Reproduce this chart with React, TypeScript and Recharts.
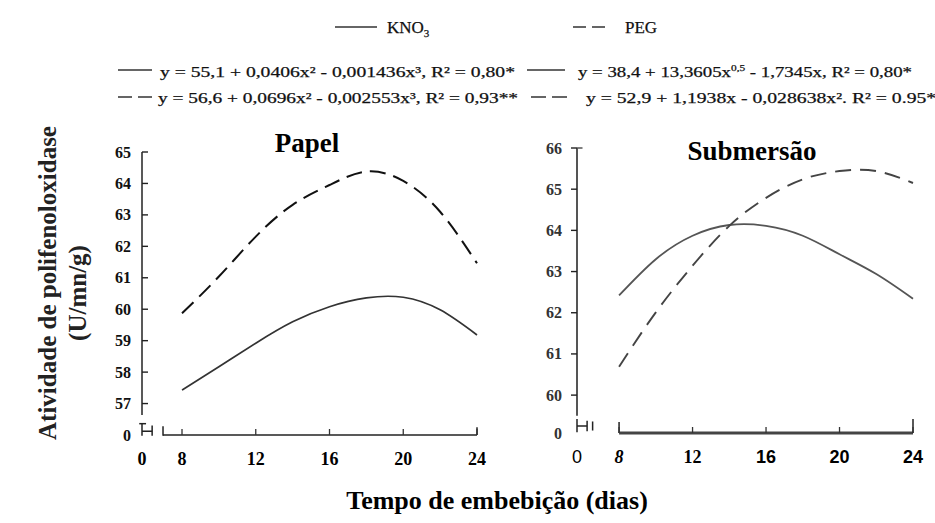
import { LineChart, Line, XAxis, YAxis, ReferenceLine } from 'recharts';

// days of imbibition where the curves were read
const DAYS = [8, 10, 12, 14, 16, 18, 20, 22, 24];

// Papel
const PAPEL_KNO3 = [57.43, 58.17, 58.92, 59.6, 60.08, 60.36, 60.38, 59.98, 59.18];
const PAPEL_PEG = [59.87, 61.04, 62.31, 63.32, 63.95, 64.38, 64.08, 63.1, 61.46];

// Submersão
const SUB_KNO3 = [62.42, 63.3, 63.87, 64.13, 64.11, 63.87, 63.42, 62.94, 62.34];
const SUB_PEG = [60.69, 62.01, 63.14, 64.11, 64.79, 65.24, 65.44, 65.44, 65.15];

const X_TICKS = [8, 12, 16, 20, 24];
const PAPEL_Y_TICKS = [57, 58, 59, 60, 61, 62, 63, 64, 65];
const SUB_Y_TICKS = [60, 61, 62, 63, 64, 65, 66];

// broken axes: the origin of each panel is drawn as "0"
const PAPEL_X0 = 5.83;
const PAPEL_Y0 = 56;
const SUB_X0 = 5.71;
const SUB_Y0 = 59.08;

const SERIF = '"Liberation Serif", "DejaVu Serif", serif';
const SANS = '"Liberation Sans", "DejaVu Sans", sans-serif';

const papelData = DAYS.map((d, i) => ({ day: d, kno3: PAPEL_KNO3[i], peg: PAPEL_PEG[i] }));
const subData = DAYS.map((d, i) => ({ day: d, kno3: SUB_KNO3[i], peg: SUB_PEG[i] }));

const SUB_X_FONT: Record<string, { family: string; weight: string; style: string }> = {
  '0': { family: SANS, weight: 'normal', style: 'normal' },
  '8': { family: SERIF, weight: 'bold', style: 'italic' },
  '12': { family: SERIF, weight: 'bold', style: 'normal' },
  '16': { family: SANS, weight: 'bold', style: 'normal' },
  '20': { family: SANS, weight: 'bold', style: 'normal' },
  '24': { family: SANS, weight: 'bold', style: 'normal' },
};

function makeYTick(origin: number, inward: boolean, fill: string) {
  return (props: any) => {
    const { x, y, payload } = props;
    const axisX = x + 12;
    const isOrigin = payload.value === origin;
    return (
      <g>
        {!isOrigin && (
          <line x1={axisX} x2={inward ? axisX + 6 : axisX - 6} y1={y} y2={y} stroke="#222" strokeWidth={1.4} />
        )}
        <text
          x={inward ? x + 1 : x - 3}
          y={y}
          textAnchor="end"
          dominantBaseline="central"
          fontFamily={SERIF}
          fontWeight="bold"
          fontSize={16}
          fill={fill}
        >
          {isOrigin ? '0' : payload.value}
        </text>
      </g>
    );
  };
}

function makeXTick(origin: number, fonts?: typeof SUB_X_FONT) {
  return (props: any) => {
    const { x, y, payload } = props;
    const isOrigin = payload.value === origin;
    const label = isOrigin ? '0' : String(payload.value);
    const f = fonts ? fonts[label] : { family: SERIF, weight: 'bold', style: 'normal' };
    return (
      <g>
        {!isOrigin && <line x1={x} x2={x} y1={y} y2={y - 6} stroke="#333" strokeWidth={1.3} />}
        <text
          x={x}
          y={y + 24}
          textAnchor="middle"
          dominantBaseline="central"
          fontFamily={f.family}
          fontWeight={f.weight}
          fontStyle={f.style}
          fontSize={18}
          fill="#000"
        >
          {label}
        </text>
      </g>
    );
  };
}

function Segment({ a, b, color = '#222', width = 1.5 }: { a: [number, number]; b: [number, number]; color?: string; width?: number }) {
  return (
    <ReferenceLine
      segment={[{ x: a[0], y: a[1] }, { x: b[0], y: b[1] }]}
      stroke={color}
      strokeWidth={width}
      ifOverflow="visible"
    />
  );
}

function PapelChart() {
  return (
    <LineChart width={500} height={523} data={papelData} margin={{ top: 152, right: 23, bottom: 58, left: 102 }}>
      <XAxis
        type="number"
        dataKey="day"
        domain={[PAPEL_X0, 24]}
        ticks={[PAPEL_X0, ...X_TICKS]}
        interval={0}
        height={30}
        axisLine={false}
        tickLine={false}
        tickSize={0}
        tickMargin={0}
        tick={makeXTick(PAPEL_X0)}
      />
      <YAxis
        type="number"
        domain={[PAPEL_Y0, 65]}
        ticks={[PAPEL_Y0, ...PAPEL_Y_TICKS]}
        interval={0}
        width={40}
        axisLine={false}
        tickLine={false}
        tickSize={0}
        tickMargin={12}
        tick={makeYTick(PAPEL_Y0, true, '#111')}
      />
      {/* axis lines with the break near the origin */}
      {Segment({ a: [PAPEL_X0, 56.64], b: [PAPEL_X0, 65] })}
      {Segment({ a: [PAPEL_X0 - 0.15, 56.36], b: [PAPEL_X0 + 0.22, 56.36] })}
      {Segment({ a: [PAPEL_X0, 56.36], b: [PAPEL_X0, 55.98] })}
      {Segment({ a: [PAPEL_X0 + 0.55, 56.3], b: [PAPEL_X0 + 0.55, 55.98] })}
      {Segment({ a: [PAPEL_X0, 56.12], b: [PAPEL_X0 + 0.55, 56.12] })}
      {Segment({ a: [6.97, 56.28], b: [6.97, 55.98] })}
      {Segment({ a: [6.97, PAPEL_Y0], b: [24, PAPEL_Y0] })}
      {Segment({ a: [24, PAPEL_Y0], b: [24, 56.25] })}
      <Line type="natural" dataKey="kno3" stroke="#333" strokeWidth={1.7} dot={false} isAnimationActive={false} />
      <Line
        type="natural"
        dataKey="peg"
        stroke="#111"
        strokeWidth={2}
        strokeDasharray="16 8"
        dot={false}
        isAnimationActive={false}
      />
    </LineChart>
  );
}

function SubChart() {
  return (
    <LineChart width={435} height={523} data={subData} margin={{ top: 148, right: 22, bottom: 60, left: 37 }}>
      <XAxis
        type="number"
        dataKey="day"
        domain={[SUB_X0, 24]}
        ticks={[SUB_X0, ...X_TICKS]}
        interval={0}
        height={30}
        axisLine={false}
        tickLine={false}
        tickSize={0}
        tickMargin={0}
        tick={makeXTick(SUB_X0, SUB_X_FONT)}
      />
      <YAxis
        type="number"
        domain={[SUB_Y0, 66]}
        ticks={[SUB_Y0, ...SUB_Y_TICKS]}
        interval={0}
        width={40}
        axisLine={false}
        tickLine={false}
        tickSize={0}
        tickMargin={12}
        tick={makeYTick(SUB_Y0, false, '#333')}
      />
      {Segment({ a: [SUB_X0, 59.5], b: [SUB_X0, 66], color: '#555', width: 2 })}
      {Segment({ a: [SUB_X0, 66], b: [SUB_X0 + 0.3, 66], color: '#555', width: 1.5 })}
      {Segment({ a: [SUB_X0, 59.42], b: [SUB_X0, 59.1] })}
      {Segment({ a: [SUB_X0, 59.25], b: [SUB_X0 + 0.55, 59.25] })}
      {Segment({ a: [SUB_X0 + 0.55, 59.38], b: [SUB_X0 + 0.55, 59.12] })}
      {Segment({ a: [SUB_X0 + 0.85, 59.36], b: [SUB_X0 + 0.85, 59.14] })}
      {Segment({ a: [8, 59.35], b: [8, SUB_Y0] })}
      {Segment({ a: [8, SUB_Y0], b: [24, SUB_Y0], color: '#444', width: 3 })}
      {Segment({ a: [24, SUB_Y0], b: [24, 59.42] })}
      <Line type="natural" dataKey="kno3" stroke="#555" strokeWidth={1.8} dot={false} isAnimationActive={false} />
      <Line
        type="natural"
        dataKey="peg"
        stroke="#444"
        strokeWidth={1.9}
        strokeDasharray="16 9"
        dot={false}
        isAnimationActive={false}
      />
    </LineChart>
  );
}

function Overlay() {
  const eq = { fontFamily: SERIF, fontSize: 15, fill: '#111', stroke: '#111', strokeWidth: 0.25 };
  return (
    <svg width={935} height={523} style={{ position: 'absolute', left: 0, top: 0, pointerEvents: 'none' }}>
      {/* legend */}
      <line x1={335} x2={377} y1={27} y2={27} stroke="#333" strokeWidth={1.6} />
      <text x={387} y={33} {...eq} fontSize={17}>
        KNO<tspan fontSize={11} dy={4}>3</tspan>
      </text>
      <line x1={573} x2={605} y1={27} y2={27} stroke="#333" strokeWidth={1.6} strokeDasharray="13 6" />
      <text x={625} y={33} {...eq} fontSize={17}>PEG</text>

      <line x1={118} x2={152} y1={70} y2={70} stroke="#333" strokeWidth={1.6} />
      <text x={160} y={77} {...eq} textLength={355} lengthAdjust="spacingAndGlyphs">
        y = 55,1 + 0,0406x² - 0,001436x³, R² = 0,80*
      </text>
      <line x1={527} x2={565} y1={70} y2={70} stroke="#333" strokeWidth={1.6} />
      <text x={578} y={77} {...eq} textLength={334} lengthAdjust="spacingAndGlyphs">
        y = 38,4 + 13,3605x<tspan fontSize={9} dy={-6}>0,5</tspan>
        <tspan dy={6}> - 1,7345x, R² = 0,80*</tspan>
      </text>

      <line x1={118} x2={152} y1={97} y2={97} stroke="#333" strokeWidth={1.6} strokeDasharray="14 6" />
      <text x={158} y={103} {...eq} textLength={360} lengthAdjust="spacingAndGlyphs">
        y = 56,6 + 0,0696x² - 0,002553x³, R² = 0,93**
      </text>
      <line x1={531} x2={567} y1={97} y2={97} stroke="#333" strokeWidth={1.6} strokeDasharray="15 6" />
      <text x={586} y={103} {...eq} textLength={360} lengthAdjust="spacingAndGlyphs">
        y = 52,9 + 1,1938x - 0,028638x².  R² = 0.95**
      </text>

      {/* panel titles */}
      <text x={307} y={152} textAnchor="middle" fontFamily={SERIF} fontWeight="bold" fontSize={27} fill="#000">
        Papel
      </text>
      <text x={752} y={160} textAnchor="middle" fontFamily={SERIF} fontWeight="bold" fontSize={27} fill="#000">
        Submersão
      </text>

      {/* axis titles */}
      <text
        transform="translate(47,283) rotate(-90)"
        textAnchor="middle"
        dominantBaseline="central"
        fontFamily={SERIF}
        fontWeight="bold"
        fontSize={25}
        fill="#222"
      >
        Atividade de polifenoloxidase
      </text>
      <text
        transform="translate(77,293) rotate(-90)"
        textAnchor="middle"
        dominantBaseline="central"
        fontFamily={SERIF}
        fontWeight="bold"
        fontSize={25}
        fill="#222"
      >
        (U/mn/g)
      </text>
      <text x={497} y={509} textAnchor="middle" fontFamily={SERIF} fontWeight="bold" fontSize={26} fill="#000">
        Tempo de embebição (dias)
      </text>
    </svg>
  );
}

export default function App() {
  return (
    <div
      style={{
        position: 'absolute',
        left: 0,
        top: 0,
        width: 935,
        height: 523,
        overflow: 'hidden',
        background: '#fff',
      }}
    >
      <div style={{ position: 'absolute', left: 0, top: 0 }}>
        <PapelChart />
      </div>
      <div style={{ position: 'absolute', left: 500, top: 0 }}>
        <SubChart />
      </div>
      <Overlay />
    </div>
  );
}
